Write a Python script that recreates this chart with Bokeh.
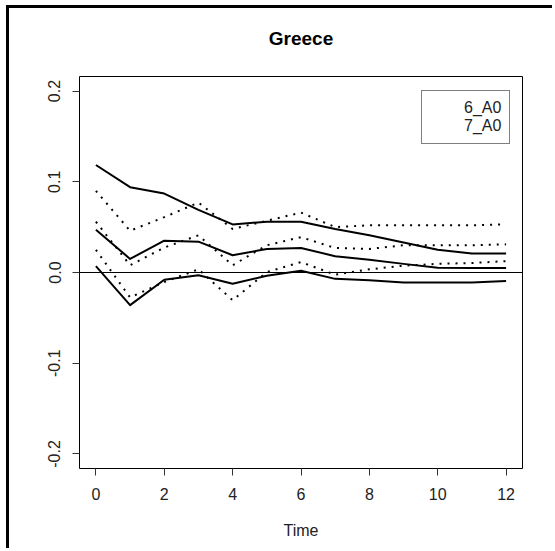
from bokeh.plotting import figure
from bokeh.models import Span, FixedTicker, PrintfTickFormatter, Legend, LegendItem, Range1d, Title
from bokeh.embed import file_html
from bokeh.resources import INLINE

# ---- data ----
time = [0, 1, 2, 3, 4, 5, 6, 7, 8, 9, 10, 11, 12]

# 6_A0 (solid): upper band, point estimate, lower band
a6_upper = [0.1185, 0.094, 0.087, 0.069, 0.053, 0.056, 0.056, 0.048, 0.041, 0.033, 0.025, 0.021, 0.021]
a6_mid = [0.047, 0.015, 0.035, 0.034, 0.019, 0.026, 0.027, 0.018, 0.014, 0.0095, 0.0053, 0.005, 0.005]
a6_lower = [0.007, -0.036, -0.008, -0.003, -0.0125, -0.0035, 0.002, -0.007, -0.0085, -0.011, -0.011, -0.011, -0.0095]

# 7_A0 (dotted)
a7_upper = [0.090, 0.046, 0.061, 0.077, 0.048, 0.057, 0.066, 0.050, 0.052, 0.052, 0.052, 0.052, 0.053]
a7_mid = [0.056, 0.008, 0.0275, 0.041, 0.008, 0.030, 0.039, 0.027, 0.026, 0.030, 0.030, 0.030, 0.031]
a7_lower = [0.025, -0.0275, -0.0105, 0.0035, -0.0305, 0.0005, 0.0115, -0.0025, 0.0035, 0.0075, 0.0095, 0.0105, 0.0125]

x_ticks = [0, 2, 4, 6, 8, 10, 12]
y_ticks = [-0.2, -0.1, 0.0, 0.1, 0.2]
series_names = ["6_A0", "7_A0"]
title_text = "Greece"
x_label = "Time"

FONT = "Liberation Sans"
TXT = "#222222"

p = figure(width=546, height=543, output_backend="svg", toolbar_location=None,
           title=None,
           x_range=Range1d(-0.48, 12.48), y_range=Range1d(-0.216, 0.216),
           min_border_left=70, min_border_right=33, min_border_top=68, min_border_bottom=83)

p.background_fill_color = "white"
p.border_fill_color = "white"
p.outline_line_color = "black"
p.outline_line_width = 1
p.grid.visible = False

# spacer title (closest to frame), then the real title above it
p.add_layout(Title(text=" ", text_font=FONT, text_font_size="10px"), "above")
p.add_layout(Title(text=title_text, align="center", text_font=FONT, text_font_size="19px",
                   text_font_style="bold", text_color="black"), "above")

for ax in (p.xaxis[0], p.yaxis[0]):
    ax.axis_line_color = None
    ax.major_tick_line_color = "#333333"
    ax.major_tick_out = 7
    ax.major_tick_in = 0
    ax.minor_tick_line_color = None
    ax.major_label_text_font = FONT
    ax.major_label_text_font_size = "16px"
    ax.major_label_text_color = TXT

p.xaxis.ticker = FixedTicker(ticks=x_ticks)
p.xaxis.major_label_standoff = 12
p.xaxis.axis_label = x_label
p.xaxis.axis_label_text_font = FONT
p.xaxis.axis_label_text_font_size = "16px"
p.xaxis.axis_label_text_font_style = "normal"
p.xaxis.axis_label_text_color = TXT
p.xaxis.axis_label_standoff = 19

p.yaxis.ticker = FixedTicker(ticks=y_ticks)
p.yaxis.formatter = PrintfTickFormatter(format="%.1f")
p.yaxis.major_label_orientation = "parallel"
p.yaxis.major_label_standoff = 12

p.add_layout(Span(location=0, dimension="width", line_color="black", line_width=1))

for ys in (a6_upper, a6_mid, a6_lower):
    p.line(time, ys, line_color="black", line_width=2, line_join="round")
for ys in (a7_upper, a7_mid, a7_lower):
    p.line(time, ys, line_color="black", line_width=2, line_dash="2 6")

# thin legend samples (as in R's legend)
r_solid = p.line([], [], line_color="black", line_width=1)
r_dot = p.line([], [], line_color="black", line_width=1, line_dash="1 2")

legend = Legend(items=[LegendItem(label=series_names[0], renderers=[r_solid]),
                       LegendItem(label=series_names[1], renderers=[r_dot])],
                location=(342, 324), margin=0, padding=8, spacing=-3,
                glyph_width=21, glyph_height=15, label_height=15, label_standoff=13,
                label_text_font=FONT, label_text_font_size="16px", label_text_color=TXT,
                border_line_color="black", border_line_width=1, background_fill_color="white",
                background_fill_alpha=1.0)
p.add_layout(legend)

# outer black edge of the original screenshot (top and left only)
p.styles = {"margin-left": "9px", "margin-top": "8px",
            "box-shadow": "-3px -3px 0 0 black"}

open("out.html", "w").write(file_html(p, INLINE))
